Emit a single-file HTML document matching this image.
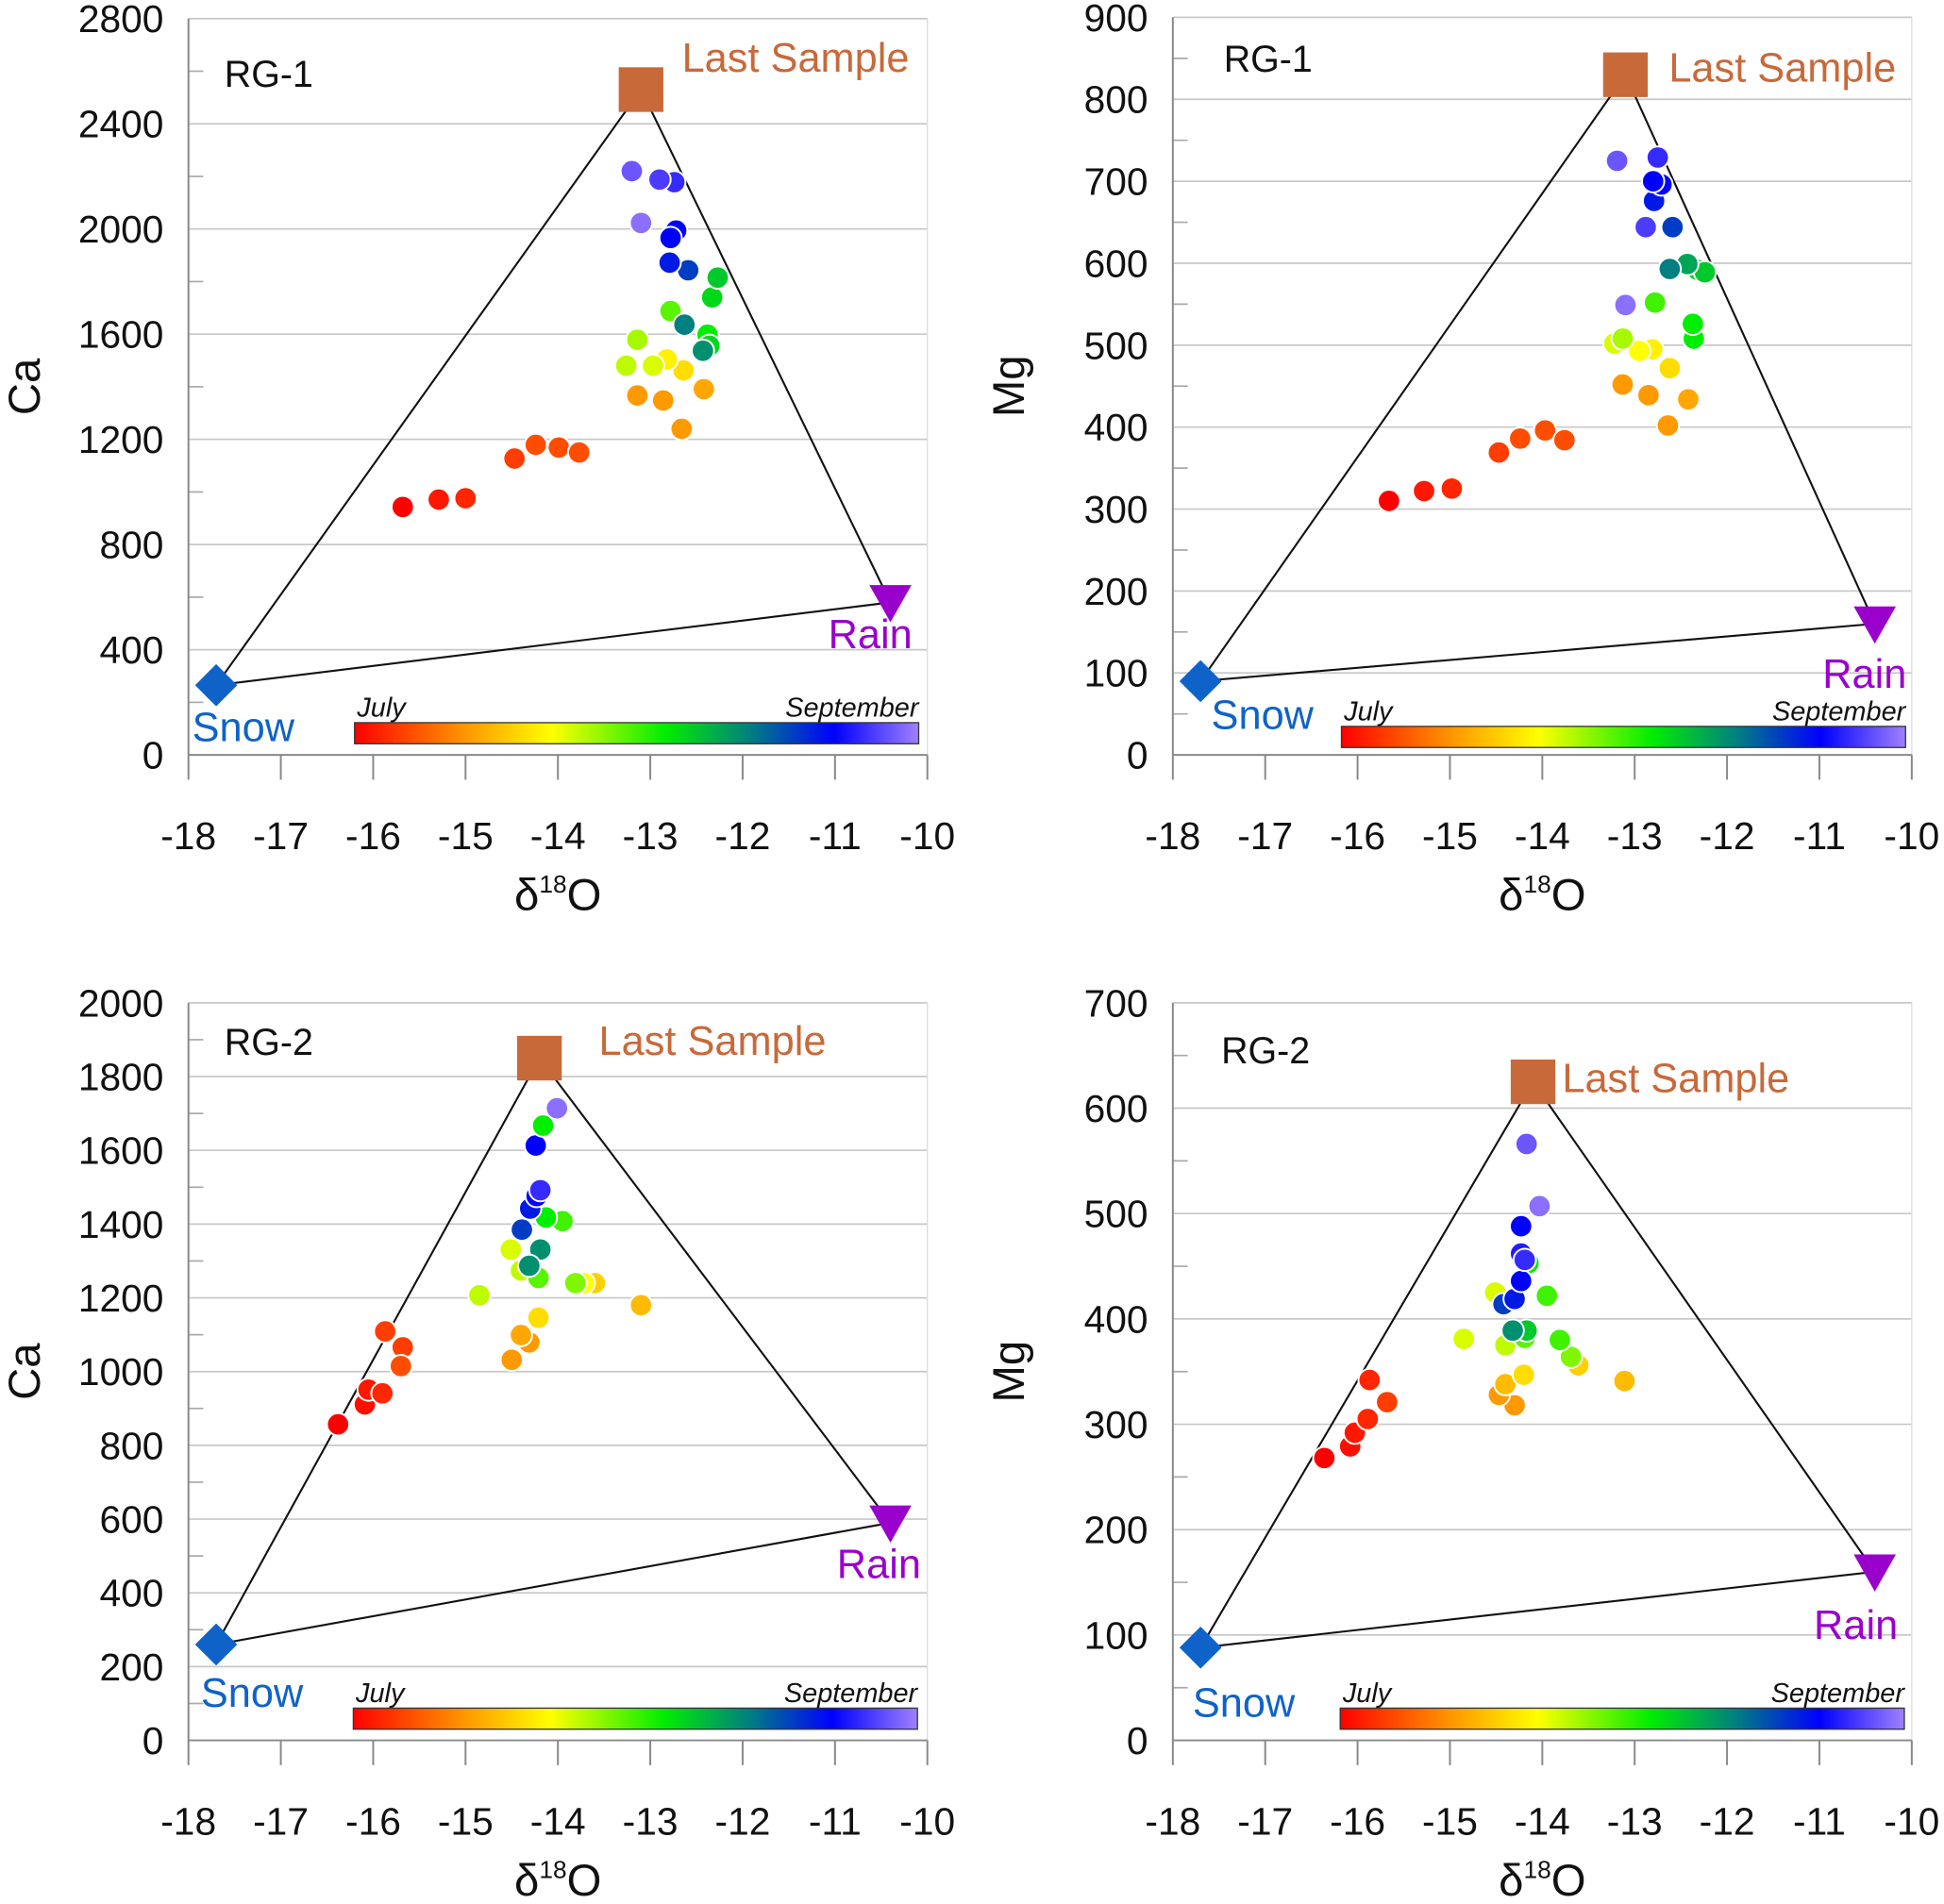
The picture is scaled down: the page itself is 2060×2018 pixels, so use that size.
<!DOCTYPE html>
<html><head><meta charset="utf-8"><style>
html,body{margin:0;padding:0;background:#fff}
svg{display:block}
text{font-family:"Liberation Sans","DejaVu Sans",sans-serif}
</style></head><body>
<svg id="chart" width="2060" height="2018" viewBox="0 0 1568 1536" xmlns="http://www.w3.org/2000/svg">
<defs>
<linearGradient id="cbar" x1="0" x2="1" y1="0" y2="0">
<stop offset="0" stop-color="#ff0000"/><stop offset="0.2" stop-color="#ff9900"/><stop offset="0.35" stop-color="#ffff00"/><stop offset="0.55" stop-color="#00ee00"/><stop offset="0.7" stop-color="#008080"/><stop offset="0.85" stop-color="#0000ff"/><stop offset="1" stop-color="#a080ff"/>
</linearGradient>
</defs>
</svg>
<script>
// ---- data ----
const xTicks = [-18,-17,-16,-15,-14,-13,-12,-11,-10];
const tlYTicks = [0,400,800,1200,1600,2000,2400,2800];
const trYTicks = [0,100,200,300,400,500,600,700,800,900];
const blYTicks = [0,200,400,600,800,1000,1200,1400,1600,1800,2000];
const brYTicks = [0,100,200,300,400,500,600,700];

const tlEnd = {snow:[-17.7,265], last:[-13.1,2530], rain:[-10.4,580]};
const trEnd = {snow:[-17.7,90], last:[-13.1,830], rain:[-10.4,160]};
const blEnd = {snow:[-17.7,260], last:[-14.2,1850], rain:[-10.4,590]};
const brEnd = {snow:[-17.7,88], last:[-14.1,625], rain:[-10.4,160]};

const tlX = [-15.68,-15.29,-15.0,-14.47,-14.24,-13.99,-13.77,-13.14,-12.86,-12.66,-12.42,-12.64,-12.82,-12.97,-13.26,-13.14,-12.78,-12.38,-12.36,-12.33,-12.27,-12.43,-12.63,-12.59,-12.79,-12.72,-12.78,-12.74,-12.9,-13.2,-13.1];
const tlY = [943,971,976,1127,1179,1169,1150,1367,1348,1240,1391,1462,1504,1480,1480,1579,1688,1598,1556,1740,1815,1537,1636,1843,1872,1994,1966,2178,2188,2220,2023];
const tlT = [0,0.03,0.05,0.08,0.1,0.1,0.1,0.2,0.2,0.2,0.22,0.3,0.33,0.38,0.4,0.42,0.48,0.55,0.58,0.58,0.6,0.68,0.7,0.78,0.82,0.85,0.85,0.9,0.92,0.95,0.98];

const trX = [-15.66,-15.28,-14.98,-14.47,-14.24,-13.97,-13.76,-13.13,-12.85,-12.64,-12.42,-12.62,-12.81,-12.95,-13.22,-13.13,-12.78,-12.36,-12.37,-12.32,-12.24,-12.43,-12.62,-12.59,-12.79,-12.71,-12.8,-12.75,-12.88,-13.19,-13.1];
const trY = [310,322,325,369,386,396,384,452,439,402,434,472,495,493,502,508,552,508,526,592,589,599,593,644,676,696,700,729,644,725,549];
const trT = [0,0.03,0.05,0.08,0.1,0.1,0.1,0.2,0.2,0.2,0.22,0.3,0.33,0.35,0.38,0.42,0.5,0.55,0.55,0.58,0.6,0.65,0.7,0.78,0.82,0.85,0.85,0.9,0.92,0.95,0.98];

const blX = [-16.38,-16.09,-16.05,-15.9,-15.87,-15.68,-15.7,-14.5,-14.31,-14.4,-14.21,-13.1,-13.6,-13.72,-13.81,-14.85,-14.51,-14.4,-14.21,-13.95,-14.13,-14.19,-14.31,-14.39,-14.3,-14.23,-14.19,-14.24,-14.16,-14.01];
const blY = [857,911,951,941,1109,1066,1015,1032,1079,1099,1146,1180,1240,1240,1240,1207,1331,1274,1254,1408,1418,1331,1287,1385,1442,1476,1492,1613,1667,1714];
const blT = [0,0.02,0.03,0.05,0.08,0.08,0.1,0.2,0.2,0.22,0.3,0.25,0.28,0.35,0.45,0.4,0.38,0.4,0.48,0.5,0.55,0.68,0.68,0.78,0.82,0.85,0.9,0.85,0.55,0.98];

const brX = [-16.36,-16.08,-16.03,-15.89,-15.87,-15.68,-14.3,-14.47,-14.4,-14.2,-13.11,-13.61,-13.69,-13.81,-14.85,-14.4,-14.51,-14.19,-13.95,-14.15,-14.17,-14.32,-14.42,-14.3,-14.23,-14.23,-14.19,-14.23,-14.17,-14.03];
const brY = [268,279,292,305,342,321,318,328,338,347,341,356,364,380,381,375,425,382,422,453,389,389,414,419,436,462,456,488,566,507];
const brT = [0,0.02,0.03,0.05,0.05,0.08,0.2,0.2,0.25,0.3,0.25,0.28,0.45,0.5,0.38,0.4,0.38,0.48,0.5,0.55,0.6,0.68,0.78,0.82,0.85,0.88,0.9,0.85,0.95,0.98];

// ---- drawing ----
const svg = document.getElementById('chart');
const NS = 'http://www.w3.org/2000/svg';
function mk(tag, attrs, parent, txt){
  const e = document.createElementNS(NS, tag);
  for (const k in attrs) e.setAttribute(k, attrs[k]);
  if (txt !== undefined) e.textContent = txt;
  (parent||svg).appendChild(e);
  return e;
}
const stops = [[0,[255,0,0]],[0.2,[255,153,0]],[0.35,[255,255,0]],[0.55,[0,238,0]],[0.7,[0,128,128]],[0.85,[0,0,255]],[1,[160,128,255]]];
function colorAt(t){
  for (let i=1;i<stops.length;i++){
    if (t<=stops[i][0]){
      const a=stops[i-1],b=stops[i],f=(t-a[0])/(b[0]-a[0]);
      const c=a[1].map((v,j)=>Math.round(v+(b[1][j]-v)*f));
      return 'rgb('+c.join(',')+')';
    }
  }
  return 'rgb(160,128,255)';
}

function drawPanel(p){
  const g = mk('g',{});
  
  
  const x0=p.left, x1=p.left+596, yb=p.bottom, yt=p.top;
  const ymax=p.yTicks[p.yTicks.length-1];
  const sx = v => x0 + (v - xTicks[0]) / (xTicks[xTicks.length-1]-xTicks[0]) * (x1-x0);
  const sy = v => yb - v / ymax * (yb-yt);
  p.yTicks.forEach((v,i)=>{
    if (i>0){
      const l = mk('line',{x1:x0,x2:x1,y1:sy(v),y2:sy(v),stroke:'#c8c8c8','stroke-width':1.3},g);
      
      
    }
    if (i<p.yTicks.length-1){
      const mid=(v+p.yTicks[i+1])/2;
      mk('line',{x1:x0,x2:x0+12,y1:sy(mid),y2:sy(mid),stroke:'#aaa','stroke-width':1.3},g);
    }
    const t = mk('text',{x:x0-20,y:sy(v)+11,'text-anchor':'end','font-size':31,fill:'#111'},g,String(v));
    
    
  });
  mk('line',{x1:x0,x2:x0,y1:yt,y2:yb,stroke:'#888','stroke-width':1.5},g);
  mk('line',{x1:x1,x2:x1,y1:yt,y2:yb,stroke:'#ddd','stroke-width':1},g);
  mk('line',{x1:x0,x2:x1,y1:yb,y2:yb,stroke:'#888','stroke-width':1.5},g);
  xTicks.forEach(v=>{
    mk('line',{x1:sx(v),x2:sx(v),y1:yb,y2:yb+20,stroke:'#888','stroke-width':1.5},g);
    const t = mk('text',{x:sx(v),y:yb+76,'text-anchor':'middle','font-size':31,fill:'#111'},g,String(v));
    
    
  });
  const xt = mk('text',{x:x0+298,y:yb+125,'text-anchor':'middle','font-size':36,fill:'#111'},g);
  
  
  mk('tspan',{},xt,'δ');
  mk('tspan',{'font-size':20,dy:-14},xt,'18');
  mk('tspan',{dy:14},xt,'O');
  const yl = mk('text',{x:0,y:0,'text-anchor':'middle','font-size':36,fill:'#111',transform:'translate('+(x0-120)+','+((yt+yb)/2)+') rotate(-90)'},g,p.yTitle);
  
  
  const pl = mk('text',{x:p.lab[0],y:p.lab[1],'font-size':30,fill:'#111'},g,p.label);
  
  
  const e=p.end;
  const S=[sx(e.snow[0]),sy(e.snow[1])], L=[sx(e.last[0]),sy(e.last[1])], R=[sx(e.rain[0]),sy(e.rain[1])];
  const tri = mk('polygon',{points:[S,L,R].map(q=>q.join(',')).join(' '),fill:'none',stroke:'#111','stroke-width':1.6},g);
  
  
  const cb = mk('rect',{x:p.cb[0],y:p.cb[1],width:455,height:17,fill:'url(#cbar)',stroke:'#333','stroke-width':1},g);
  
  
  mk('text',{x:p.cb[0]+2,y:p.cb[1]-5,'font-size':22,'font-style':'italic',fill:'#111'},g,'July');
  mk('text',{x:p.cb[0]+455,y:p.cb[1]-5,'font-size':22,'font-style':'italic','text-anchor':'end',fill:'#111'},g,'September');
  p.xs.forEach((xv,i)=>{
    const c = mk('circle',{cx:sx(xv),cy:sy(p.ys[i]),r:9,fill:colorAt(p.ts[i]),stroke:'#fff','stroke-width':1.5},g);
    
    
  });
  const sq = mk('rect',{x:L[0]-18,y:L[1]-18,width:36,height:36,fill:'#c8693a'},g);
  
  
  const dm = mk('polygon',{points:[[S[0],S[1]-17],[S[0]+17,S[1]],[S[0],S[1]+17],[S[0]-17,S[1]]].map(q=>q.join(',')).join(' '),fill:'#0f63c8'},g);
  
  
  const tr = mk('polygon',{points:[[R[0]-17,R[1]-14],[R[0]+17,R[1]-14],[R[0],R[1]+16]].map(q=>q.join(',')).join(' '),fill:'#9900cc'},g);
  
  
  const t1 = mk('text',{x:p.lsT[0],y:p.lsT[1],'font-size':33,fill:'#c8693a'},g,'Last Sample');
  
  
  const t2 = mk('text',{x:p.rainT[0],y:p.rainT[1],'font-size':33,fill:'#9900cc'},g,'Rain');
  
  
  const t3 = mk('text',{x:p.snowT[0],y:p.snowT[1],'font-size':33,fill:'#0f63c8'},g,'Snow');
  
  
}

drawPanel({name:'panel-rg1-ca',left:152,top:15,bottom:609,yTicks:tlYTicks,yTitle:'Ca',label:'RG-1',lab:[181,70],end:tlEnd,cb:[286,583],xs:tlX,ys:tlY,ts:tlT,lsT:[550,58],rainT:[668,523],snowT:[155,598]});
drawPanel({name:'panel-rg1-mg',left:946,top:14,bottom:609,yTicks:trYTicks,yTitle:'Mg',label:'RG-1',lab:[987,58],end:trEnd,cb:[1082,586],xs:trX,ys:trY,ts:trT,lsT:[1346,66],rainT:[1470,555],snowT:[977,588]});
drawPanel({name:'panel-rg2-ca',left:152,top:809,bottom:1404,yTicks:blYTicks,yTitle:'Ca',label:'RG-2',lab:[181,851],end:blEnd,cb:[285,1378],xs:blX,ys:blY,ts:blT,lsT:[483,851],rainT:[675,1273],snowT:[162,1377]});
drawPanel({name:'panel-rg2-mg',left:946,top:809,bottom:1404,yTicks:brYTicks,yTitle:'Mg',label:'RG-2',lab:[985,858],end:brEnd,cb:[1081,1378],xs:brX,ys:brY,ts:brT,lsT:[1260,881],rainT:[1463,1322],snowT:[962,1385]});
</script>
</body></html>
